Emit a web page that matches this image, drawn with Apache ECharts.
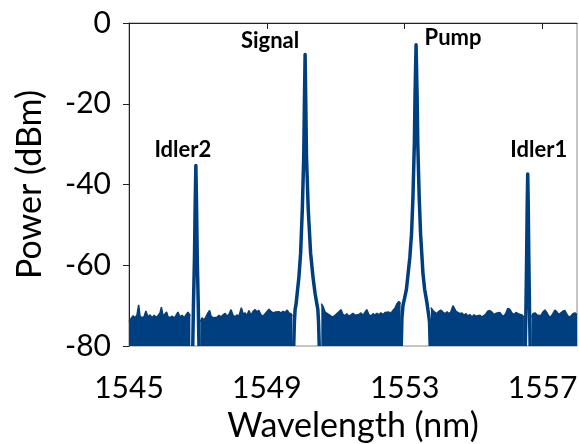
<!DOCTYPE html>
<html>
<head>
<meta charset="utf-8">
<script src="https://cdn.jsdelivr.net/npm/echarts@6/dist/echarts.min.js"></script>
<style>
  html, body { margin: 0; padding: 0; background: #fff; }
  #chart { width: 579px; height: 444px; }
</style>
</head>
<body>
<div id="chart"></div>
<script>
// wavelength (nm), power (dBm)
// noise floor, upper edge of the band, one array per stretch between peaks
const noise1 = [
  [1545.00, -74.0], [1545.06, -73.2], [1545.12, -72.5], [1545.17, -73.0], [1545.23, -72.4],
  [1545.28, -69.8], [1545.32, -72.6], [1545.38, -73.0], [1545.44, -72.7], [1545.49, -71.3],
  [1545.55, -72.8], [1545.61, -72.3], [1545.67, -73.0], [1545.73, -72.4], [1545.78, -72.9],
  [1545.84, -72.5], [1545.90, -71.8], [1545.94, -70.4], [1545.99, -72.6], [1546.04, -72.9],
  [1546.09, -71.6], [1546.13, -72.7], [1546.19, -73.0], [1546.25, -72.6], [1546.31, -73.1],
  [1546.36, -72.5], [1546.42, -71.6], [1546.48, -72.8], [1546.54, -72.4], [1546.60, -73.0],
  [1546.65, -72.6], [1546.71, -71.6], [1546.78, -72.5]
];
const noise2 = [
  [1547.07, -74.0], [1547.12, -73.0], [1547.18, -73.6], [1547.23, -72.8], [1547.29, -71.8],
  [1547.34, -71.2], [1547.38, -72.6], [1547.44, -73.0], [1547.49, -72.6], [1547.55, -72.9],
  [1547.61, -72.4], [1547.67, -72.8], [1547.73, -72.3], [1547.79, -71.9], [1547.84, -72.6],
  [1547.90, -72.2], [1547.96, -71.0], [1548.02, -72.4], [1548.08, -72.8], [1548.13, -72.3],
  [1548.19, -72.6], [1548.26, -70.5], [1548.31, -72.0], [1548.37, -71.8], [1548.42, -72.5],
  [1548.48, -71.2], [1548.54, -72.4], [1548.60, -71.4], [1548.66, -71.0], [1548.71, -71.5],
  [1548.77, -71.2], [1548.83, -72.3], [1548.89, -72.6], [1548.95, -72.0], [1549.00, -71.6],
  [1549.06, -70.9], [1549.12, -71.4], [1549.18, -71.8], [1549.24, -71.6], [1549.29, -71.9],
  [1549.35, -71.5], [1549.41, -71.8], [1549.47, -71.4], [1549.53, -71.7], [1549.59, -71.1],
  [1549.64, -71.8], [1549.70, -72.0], [1549.74, -72.5]
];
const noise3 = [
  [1550.58, -69.5], [1550.63, -70.2], [1550.69, -71.6], [1550.74, -71.2], [1550.80, -72.2],
  [1550.86, -72.6], [1550.92, -72.8], [1550.98, -72.4], [1551.03, -72.0], [1551.09, -71.5],
  [1551.15, -71.0], [1551.21, -72.2], [1551.27, -72.5], [1551.32, -72.0], [1551.38, -72.6],
  [1551.44, -72.3], [1551.50, -71.9], [1551.56, -72.4], [1551.61, -72.7], [1551.67, -72.2],
  [1551.73, -71.8], [1551.79, -72.4], [1551.85, -71.6], [1551.90, -71.0], [1551.96, -72.2],
  [1552.02, -72.6], [1552.08, -72.0], [1552.14, -72.4], [1552.19, -71.9], [1552.25, -72.3],
  [1552.31, -71.8], [1552.37, -72.2], [1552.43, -71.7], [1552.48, -72.0], [1552.54, -71.6],
  [1552.60, -71.9], [1552.66, -71.2], [1552.72, -70.6], [1552.77, -69.6], [1552.83, -69.0],
  [1552.88, -69.5]
];
const noise4 = [
  [1553.76, -70.5], [1553.82, -71.2], [1553.88, -71.7], [1553.94, -72.0], [1553.99, -71.4],
  [1554.05, -71.1], [1554.11, -71.6], [1554.17, -72.0], [1554.23, -71.5], [1554.28, -72.0],
  [1554.34, -71.6], [1554.40, -70.0], [1554.44, -69.6], [1554.49, -71.4], [1554.54, -71.6],
  [1554.60, -72.0], [1554.66, -71.8], [1554.72, -72.4], [1554.78, -72.0], [1554.83, -72.6],
  [1554.89, -72.2], [1554.95, -72.8], [1555.01, -72.3], [1555.07, -72.6], [1555.12, -72.8],
  [1555.18, -72.4], [1555.24, -72.8], [1555.30, -72.5], [1555.36, -72.0], [1555.41, -71.4],
  [1555.47, -71.2], [1555.53, -71.6], [1555.59, -72.2], [1555.65, -71.9], [1555.70, -71.5],
  [1555.76, -71.7], [1555.82, -72.4], [1555.88, -72.6], [1555.94, -71.8], [1555.99, -70.7],
  [1556.05, -70.9], [1556.11, -71.8], [1556.17, -72.2], [1556.23, -71.7], [1556.29, -72.0],
  [1556.34, -71.9], [1556.40, -72.3], [1556.46, -72.8]
];
const noise5 = [
  [1556.68, -72.8], [1556.72, -72.0], [1556.78, -71.8], [1556.84, -72.3], [1556.89, -72.0],
  [1556.95, -72.5], [1557.01, -71.6], [1557.07, -71.1], [1557.13, -71.8], [1557.18, -72.6],
  [1557.24, -72.8], [1557.30, -72.0], [1557.36, -71.1], [1557.42, -71.6], [1557.47, -72.2],
  [1557.53, -71.8], [1557.59, -71.4], [1557.65, -71.2], [1557.71, -72.2], [1557.76, -72.8],
  [1557.82, -72.6], [1557.88, -72.0], [1557.94, -71.8], [1558.00, -72.2]
];

// the four tones
const idler2 = [
  [1546.85, -80], [1546.87, -70], [1546.90, -58], [1546.92, -45], [1546.94, -35.3],
  [1546.96, -45], [1546.98, -58], [1547.01, -70], [1547.03, -80]
];
const signal = [
  [1549.78, -80], [1549.80, -74], [1549.82, -71], [1549.85, -69.5], [1549.88, -67],
  [1549.93, -63], [1549.98, -57], [1550.03, -46], [1550.07, -33], [1550.09, -20],
  [1550.11, -7.8], [1550.13, -20], [1550.15, -33], [1550.20, -46], [1550.27, -57],
  [1550.34, -63], [1550.40, -67], [1550.45, -69.5], [1550.48, -71], [1550.50, -74],
  [1550.52, -80]
];
const pump = [
  [1552.90, -80], [1552.92, -73], [1552.95, -70], [1553.00, -68], [1553.05, -66],
  [1553.10, -62], [1553.15, -58], [1553.20, -52], [1553.24, -43], [1553.28, -30],
  [1553.30, -18], [1553.33, -5.4], [1553.36, -18], [1553.38, -30], [1553.42, -43],
  [1553.46, -52], [1553.53, -62], [1553.58, -66], [1553.64, -69], [1553.69, -72],
  [1553.72, -74], [1553.74, -80]
];
const idler1 = [
  [1556.50, -80], [1556.52, -70], [1556.54, -57], [1556.555, -45], [1556.57, -37.4],
  [1556.585, -45], [1556.60, -57], [1556.62, -70], [1556.64, -80]
];

const peakNames = ['Idler2', 'Signal', 'Pump', 'Idler1'];
const xTicks = [1545, 1549, 1553, 1557];

const blue = '#003f7f';
const font = 'Lato';

const chart = echarts.init(document.getElementById('chart'));

// noise band: filled down to the axis minimum
const noiseSeries = [noise1, noise2, noise3, noise4, noise5].map(d => ({
  type: 'line',
  data: d,
  symbol: 'none',
  lineStyle: { color: blue, width: 1.5 },
  areaStyle: { color: blue, opacity: 1, origin: 'start' },
  z: 2
}));

// label offsets (px) from each peak top
const labelOffsets = [[-13, -16], [-35, -14], [37, -7], [11, -24]];

const peakSeries = [idler2, signal, pump, idler1].map((d, i) => ({
  type: 'line',
  data: d,
  symbol: 'none',
  lineStyle: { color: blue, width: 3.5, join: 'round' },
  z: 3,
  markPoint: {
    symbol: 'circle',
    symbolSize: 1,
    itemStyle: { color: 'rgba(0,0,0,0)' },
    data: [{ type: 'max', name: peakNames[i] }],
    label: {
      show: true,
      position: 'inside',
      offset: labelOffsets[i],
      formatter: peakNames[i],
      fontFamily: font,
      fontWeight: 'bold',
      fontSize: 22,
      color: '#000'
    }
  }
}));

chart.setOption({
  animation: false,
  grid: {
    left: 129, right: 2, top: 23, bottom: 98,
    containLabel: false,
    outerBoundsMode: 'none',
    show: true, borderColor: '#8c8c8c', borderWidth: 1
  },
  xAxis: {
    type: 'value',
    min: 1545,
    max: 1558,
    name: 'Wavelength (nm)',
    nameLocation: 'middle',
    nameGap: 63,
    nameTextStyle: { fontFamily: font, fontSize: 34, color: '#000' },
    axisLine: { lineStyle: { color: '#222', width: 1 } },
    axisTick: { customValues: xTicks, length: 6, lineStyle: { color: '#222' } },
    axisLabel: {
      customValues: xTicks,
      margin: 27,
      formatter: v => String(v),
      fontFamily: font,
      fontSize: 30,
      color: '#000'
    },
    splitLine: { show: false }
  },
  yAxis: {
    type: 'value',
    min: -80,
    max: 0,
    interval: 20,
    name: 'Power (dBm)',
    nameLocation: 'middle',
    nameGap: 82,
    nameTextStyle: { fontFamily: font, fontSize: 34, color: '#000' },
    axisLine: { show: true, lineStyle: { color: '#222', width: 1 } },
    axisTick: { show: true, length: 6, lineStyle: { color: '#222' } },
    axisLabel: { margin: 18, fontFamily: font, fontSize: 30, color: '#000' },
    splitLine: { show: false }
  },
  series: [...noiseSeries, ...peakSeries]
});
</script>
</body>
</html>
